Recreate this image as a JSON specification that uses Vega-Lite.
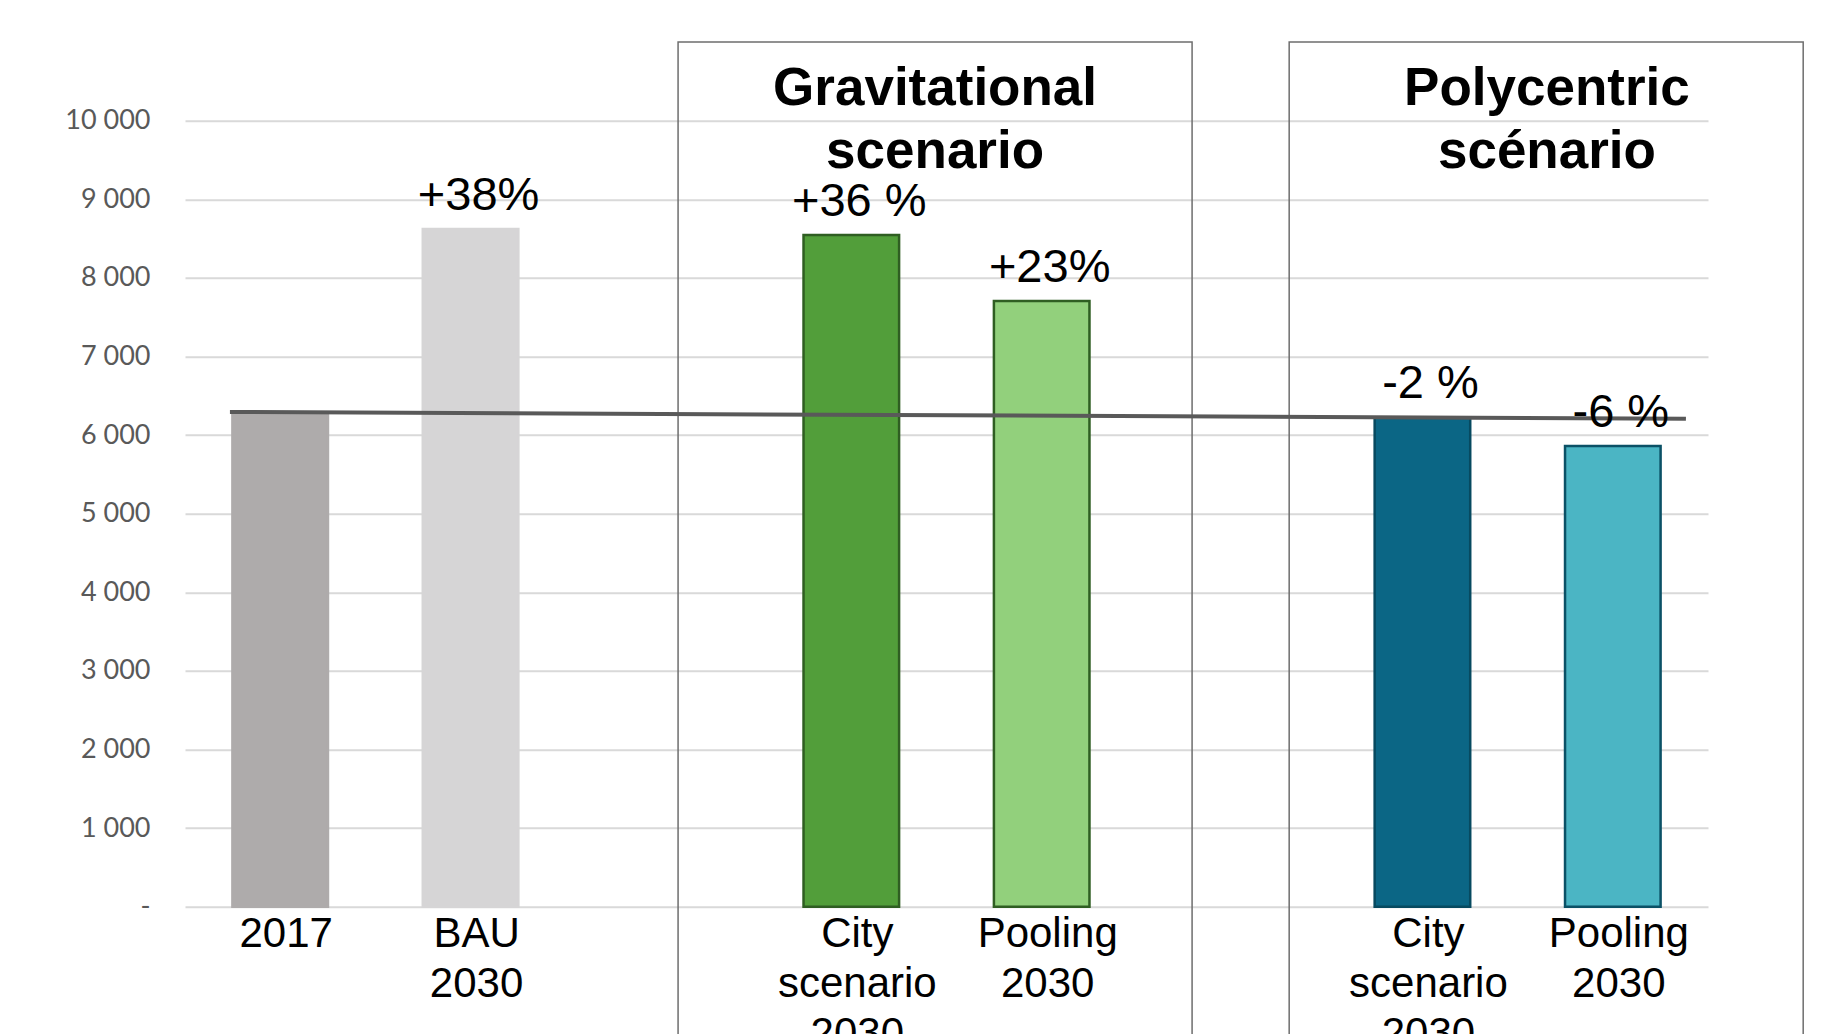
{
  "$schema": "https://vega.github.io/schema/vega-lite/v6.json",
  "width": 1523,
  "height": 786,
  "autosize": {"type": "none"},
  "padding": {"left": 185, "top": 120.7, "right": 125, "bottom": 127.3},
  "background": "white",
  "config": {"view": {"stroke": null}, "font": "Liberation Sans"},
  "datasets": {
    "bars": [
      {"id": "2017", "label": "2017", "value": 6265, "change": ""},
      {"id": "BAU 2030", "label": "BAU\n2030", "value": 8622, "change": "+38%"},
      {"id": "Gravitational: City scenario 2030", "label": "City\nscenario\n2030", "value": 8546, "change": "+36 %"},
      {"id": "Gravitational: Pooling 2030", "label": "Pooling\n2030", "value": 7706, "change": "+23%"},
      {"id": "Polycentric: City scenario 2030", "label": "City\nscenario\n2030", "value": 6226, "change": "-2 %"},
      {"id": "Polycentric: Pooling 2030", "label": "Pooling\n2030", "value": 5861, "change": "-6 %"}
    ],
    "groups": [
      {"title": "Gravitational\nscenario", "from": 2.09, "to": 4.79, "mid": 3.44, "top": 11000, "bottom": -3000},
      {"title": "Polycentric\nscénario", "from": 5.30, "to": 8.0, "mid": 6.654, "top": 11000, "bottom": -3000}
    ],
    "reference": [
      {"slot": -0.264, "value": 6294},
      {"slot": 7.384, "value": 6209}
    ]
  },
  "resolve": {"scale": {"x": "independent"}},
  "layer": [
    {
      "data": {"name": "bars"},
      "mark": {"type": "bar", "strokeWidth": 2.5},
      "encoding": {
        "x": {
          "field": "id", "type": "nominal", "axis": null,
          "scale": {"domain": ["2017", "BAU 2030", "gap1", "Gravitational: City scenario 2030", "Gravitational: Pooling 2030", "gap2", "Polycentric: City scenario 2030", "Polycentric: Pooling 2030"], "paddingInner": 0.498, "paddingOuter": 0.249}
        },
        "y": {
          "field": "value", "type": "quantitative",
          "scale": {"domain": [0, 10000], "nice": false},
          "axis": {
            "title": null,
            "values": [0, 1000, 2000, 3000, 4000, 5000, 6000, 7000, 8000, 9000, 10000],
            "grid": true, "gridColor": "#D9D9D9", "gridWidth": 2,
            "domain": false, "ticks": false, "tickSize": 0,
            "labelPadding": 35,
            "labelFont": "Lato", "labelFontSize": 27, "labelColor": "#595959",
            "labelExpr": "datum.value === 0 ? '-' : replace(format(datum.value, ','), ',', ' ')"
          }
        },
        "color": {
          "field": "id", "type": "nominal", "legend": null,
          "scale": {"domain": ["2017", "BAU 2030", "Gravitational: City scenario 2030", "Gravitational: Pooling 2030", "Polycentric: City scenario 2030", "Polycentric: Pooling 2030"], "range": ["#AEABAB", "#D6D5D6", "#529E3A", "#92D07C", "#0B6685", "#4BB5C4"]}
        },
        "stroke": {
          "field": "id", "type": "nominal", "legend": null,
          "scale": {"domain": ["2017", "BAU 2030", "Gravitational: City scenario 2030", "Gravitational: Pooling 2030", "Polycentric: City scenario 2030", "Polycentric: Pooling 2030"], "range": ["#AEABAB", "#D6D5D6", "#2F5E22", "#2F5E22", "#074A60", "#0B5166"]}
        }
      }
    },
    {
      "data": {"name": "groups"},
      "mark": {"type": "rect", "fill": null, "stroke": "#6E6E6E", "strokeWidth": 1.5},
      "encoding": {
        "x": {"field": "from", "type": "quantitative", "axis": null, "scale": {"domain": [-0.5, 7.5], "nice": false, "zero": false}},
        "x2": {"field": "to"},
        "y": {"field": "top", "type": "quantitative", "scale": {"domain": [0, 10000], "nice": false}},
        "y2": {"field": "bottom"}
      }
    },
    {
      "data": {"name": "reference"},
      "mark": {"type": "line", "color": "#595959", "strokeWidth": 4},
      "encoding": {
        "x": {"field": "slot", "type": "quantitative", "axis": null, "scale": {"domain": [-0.5, 7.5], "nice": false, "zero": false}},
        "y": {"field": "value", "type": "quantitative", "scale": {"domain": [0, 10000], "nice": false}}
      }
    },
    {
      "data": {"name": "groups"},
      "mark": {"type": "text", "fontWeight": "bold", "fontSize": 53, "lineHeight": 63, "lineBreak": "\n", "baseline": "top", "align": "center", "dy": 21, "color": "#000000"},
      "encoding": {
        "x": {"field": "mid", "type": "quantitative", "axis": null, "scale": {"domain": [-0.5, 7.5], "nice": false, "zero": false}},
        "y": {"field": "top", "type": "quantitative", "scale": {"domain": [0, 10000], "nice": false}},
        "text": {"field": "title"}
      }
    },
    {
      "data": {"name": "bars"},
      "mark": {"type": "text", "fontSize": 47, "baseline": "alphabetic", "align": "center", "dx": 8, "dy": -19, "color": "#000000"},
      "encoding": {
        "x": {
          "field": "id", "type": "nominal", "axis": null,
          "scale": {"domain": ["2017", "BAU 2030", "gap1", "Gravitational: City scenario 2030", "Gravitational: Pooling 2030", "gap2", "Polycentric: City scenario 2030", "Polycentric: Pooling 2030"], "paddingInner": 0.498, "paddingOuter": 0.249}
        },
        "y": {"field": "value", "type": "quantitative", "scale": {"domain": [0, 10000], "nice": false}},
        "text": {"field": "change"}
      }
    },
    {
      "data": {"name": "bars"},
      "mark": {"type": "text", "fontSize": 42, "lineHeight": 50, "lineBreak": "\n", "baseline": "top", "align": "center", "dx": 6, "dy": 7, "color": "#000000"},
      "encoding": {
        "x": {
          "field": "id", "type": "nominal", "axis": null,
          "scale": {"domain": ["2017", "BAU 2030", "gap1", "Gravitational: City scenario 2030", "Gravitational: Pooling 2030", "gap2", "Polycentric: City scenario 2030", "Polycentric: Pooling 2030"], "paddingInner": 0.498, "paddingOuter": 0.249}
        },
        "y": {"datum": 0, "type": "quantitative", "scale": {"domain": [0, 10000], "nice": false}},
        "text": {"field": "label"}
      }
    }
  ]
}
